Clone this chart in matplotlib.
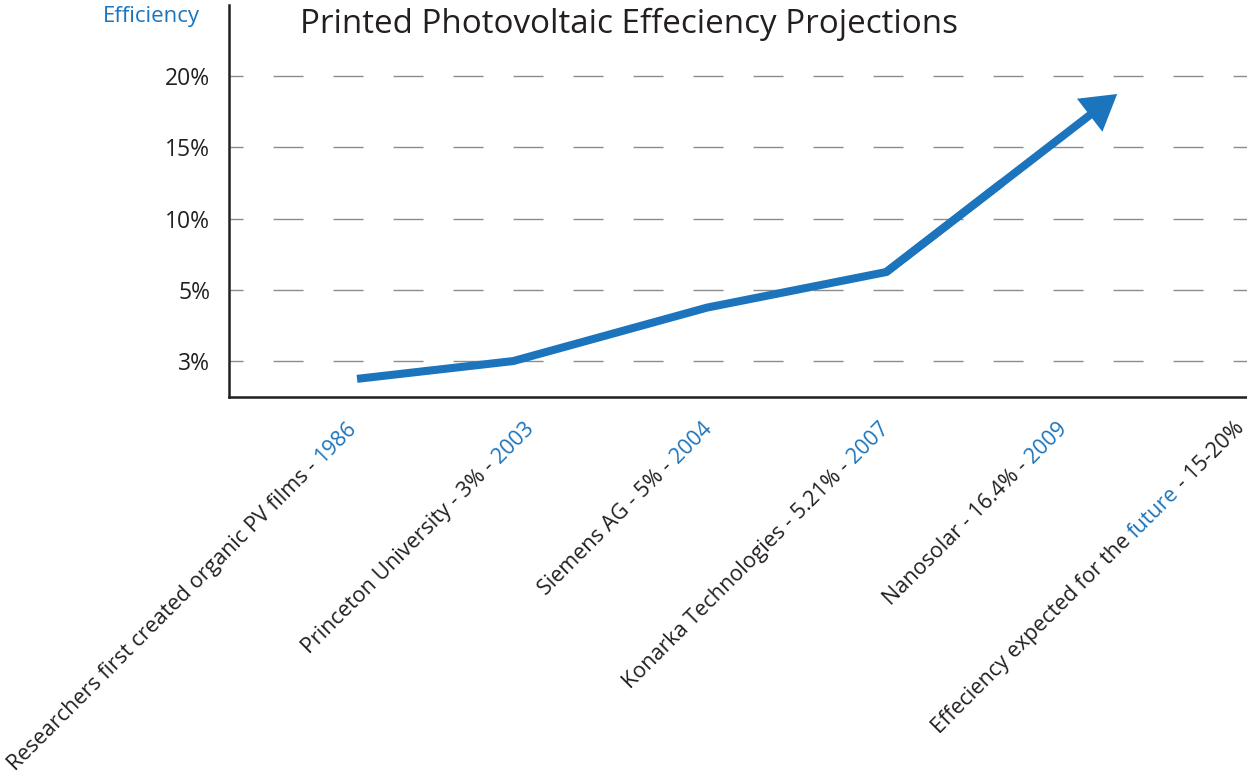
import numpy as np
import matplotlib
matplotlib.use("Agg")
import matplotlib.pyplot as plt
from matplotlib.font_manager import FontProperties
from matplotlib.patches import FancyArrowPatch

# data
title = "Printed Photovoltaic Effeciency Projections"
y_title = "Efficiency"
y_levels = [3, 5, 10, 15, 20]          # tick values, drawn evenly spaced
y_labels = ["3%", "5%", "10%", "15%", "20%"]

x_labels = [
    "Researchers first created organic PV films - 1986",
    "Princeton University - 3% - 2003",
    "Siemens AG - 5% - 2004",
    "Konarka Technologies - 5.21% - 2007",
    "Nanosolar - 16.4% - 2009",
    "Effeciency expected for the future - 15-20%",
]
x_highlight = ["1986", "2003", "2004", "2007", "2009", "future"]

# trend line (x in category units, y in percent on the stepped scale)
line_x = [0.0, 0.88, 1.97, 2.98, 4.28]
line_y = [2.5, 3.0, 4.5, 6.25, 18.75]

BLUE = "#1C75BC"
DARK = "#231F20"
GRID = "#8c8c8c"
FONT = "Open Sans"
plt.rcParams["font.family"] = [FONT, "DejaVu Sans"]


# evenly spaced tick levels -> piecewise linear scale
lv = np.array(y_levels, float)
iv = np.arange(len(lv), dtype=float)


def fwd(v):
    v = np.asarray(v, float)
    out = np.interp(v, lv, iv)
    out = np.where(v < lv[0], (v - lv[0]) / (lv[1] - lv[0]), out)
    out = np.where(v > lv[-1], iv[-1] + (v - lv[-1]) / (lv[-1] - lv[-2]), out)
    return out


def inv(i):
    i = np.asarray(i, float)
    out = np.interp(i, iv, lv)
    out = np.where(i < 0, lv[0] + i * (lv[1] - lv[0]), out)
    out = np.where(i > iv[-1], lv[-1] + (i - iv[-1]) * (lv[-1] - lv[-2]), out)
    return out


W, H = 1247, 778
fig = plt.figure(figsize=(W / 100, H / 100), dpi=100)
ax = fig.add_axes([229 / W, 1 - 397 / H, 1 - 229 / W, (397 - 5) / H])

ax.set_yscale("function", functions=(fwd, inv))
ax.set_ylim(inv(-0.505), inv(5.0))
ax.set_xlim(-0.721, 5.011)

ax.set_yticks(y_levels)
ax.set_yticklabels(y_labels)
ax.minorticks_off()
ax.tick_params(axis="y", length=0, pad=13.5, labelsize=16.5, labelcolor=DARK)
ax.set_xticks([])

for s in ["top", "right"]:
    ax.spines[s].set_visible(False)
for s in ["left", "bottom"]:
    ax.spines[s].set_color(DARK)
    ax.spines[s].set_linewidth(1.8)

ax.grid(axis="y", color=GRID, lw=1.0, ls=(11.5, (21.6, 21.6)))
ax.set_axisbelow(True)

# trend line + arrow head on the last leg
mid_x = line_x[-2] + 0.5 * (line_x[-1] - line_x[-2])
mid_y = line_y[-2] + 0.5 * (line_y[-1] - line_y[-2])
ax.plot(line_x[:-1] + [mid_x], line_y[:-1] + [mid_y], color=BLUE, lw=5.8,
        solid_joinstyle="miter", solid_capstyle="butt", zorder=3)
arr = FancyArrowPatch((line_x[-2], line_y[-2]), (line_x[-1], line_y[-1]),
                      arrowstyle="simple,head_length=25,head_width=30,tail_width=5.8",
                      mutation_scale=1, color=BLUE, lw=0, shrinkA=0, shrinkB=0,
                      zorder=3)
ax.add_patch(arr)

# rotated category labels with a coloured part
fp = FontProperties(family=FONT, size=15.5)
renderer = fig.canvas.get_renderer()


def tw(s):
    return renderer.get_text_width_height_descent(s, fp, ismath=False)[0]


space = tw("a a") - tw("aa")
c = s45 = np.sqrt(0.5)
for i, (lab, hl) in enumerate(zip(x_labels, x_highlight)):
    pre, post = lab.split(hl)
    parts = [(pre.strip(), DARK), (hl, BLUE), (post.strip(), DARK)]
    parts = [p for p in parts if p[0]]
    cum = 0.0
    for txt, col in reversed(parts):
        ax.annotate(txt, xy=(i, 0), xycoords=("data", "axes fraction"),
                    xytext=(-11 - cum * c, -21 - cum * s45), textcoords="offset pixels",
                    rotation=45, rotation_mode="anchor", ha="right", va="top",
                    fontproperties=fp, color=col, annotation_clip=False)
        cum += tw(txt) + space

fig.text(300 / W, 1 - 33 / H, title, fontsize=23.9, color=DARK, va="baseline", ha="left")
fig.text(200 / W, 1 - 22 / H, y_title, fontsize=16, color=BLUE, va="baseline", ha="right")

fig.savefig("out.png", dpi=100)
